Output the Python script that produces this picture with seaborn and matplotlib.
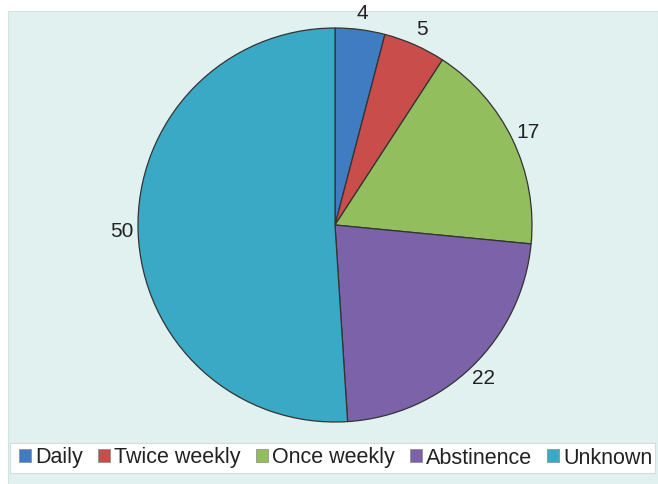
import matplotlib
matplotlib.use("Agg")
import matplotlib.pyplot as plt
import seaborn as sns
from matplotlib.patches import Rectangle

# data
categories = ["Daily", "Twice weekly", "Once weekly", "Abstinence", "Unknown"]
values = [4, 5, 17, 22, 50]
colors = ["#3f7cc2", "#c84d4b", "#93be5d", "#7c62a9", "#3aa9c5"]

sns.set_style("white")
plt.rcParams['font.family'] = ['Liberation Sans', 'DejaVu Sans']

fig = plt.figure(figsize=(6.58, 4.84), dpi=100)
W, H = 658, 484

# light panel behind everything
fig.patches.append(Rectangle((8 / W, 0), 1 - 8 / W, 1 - 11 / H, transform=fig.transFigure,
                             facecolor="#e1f1ef", edgecolor="#d2e4e2", lw=0.8, zorder=-2))
# white legend strip
fig.patches.append(Rectangle((10 / W, (H - 473) / H), (655 - 10) / W, 30 / H,
                             transform=fig.transFigure, facecolor="white",
                             edgecolor="#d0dedd", lw=0.8, zorder=-1))

cx, cy, r = 335, 225, 197
ax = fig.add_axes([(cx - r) / W, (H - cy - r) / H, 2 * r / W, 2 * r / H])
ax.set_facecolor("none")

pal = sns.color_palette(colors)
wedges, texts = ax.pie(values, labels=[str(v) for v in values], colors=pal,
                       startangle=90, counterclock=False, labeldistance=1.085,
                       wedgeprops=dict(edgecolor="#333333", linewidth=0.9),
                       textprops=dict(fontsize=15, color="#222222"))
for t in texts:
    t.set_ha("center")
    t.set_va("center")
ax.set_xlim(-1, 1)
ax.set_ylim(-1, 1)
ax.axis("off")

leg = fig.legend(wedges, categories, loc="center", ncol=5,
                 bbox_to_anchor=(336 / W, (H - 458) / H),
                 frameon=False, fontsize=15.5, labelcolor="#222222",
                 handlelength=0.55, handleheight=0.55, handletextpad=0.2,
                 columnspacing=0.7, borderpad=0.2, borderaxespad=0)
for h in leg.legend_handles:
    h.set_edgecolor("#888888")
    h.set_linewidth(0.5)

fig.savefig("out.png", dpi=100, facecolor="white")
